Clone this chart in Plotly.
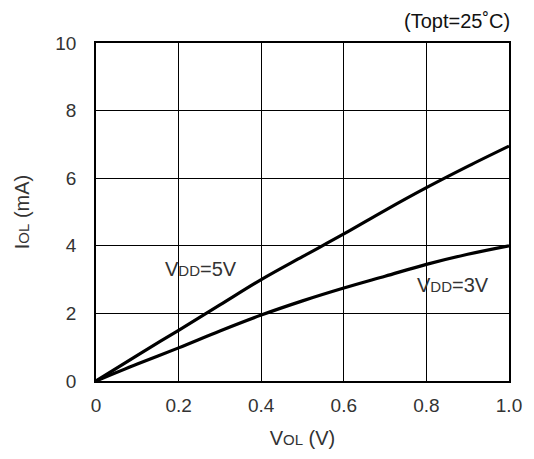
import plotly.graph_objects as go

# V_OL (V) sample points
vol = [0.0, 0.1, 0.2, 0.3, 0.4, 0.5, 0.6, 0.7, 0.8, 0.9, 1.0]
iol_5v = [0.0, 0.76, 1.5, 2.25, 3.0, 3.68, 4.35, 5.05, 5.72, 6.35, 6.95]
iol_3v = [0.0, 0.5, 0.98, 1.48, 1.95, 2.37, 2.75, 3.1, 3.45, 3.75, 4.0]

x_ticks = [0, 0.2, 0.4, 0.6, 0.8, 1.0]
x_tick_text = ["0", "0.2", "0.4", "0.6", "0.8", "1.0"]
y_ticks = [0, 2, 4, 6, 8, 10]

FONT = "Liberation Sans, Arial, sans-serif"
INK = "#333"
SUB = "<span style='font-size:15px'>{}</span>"

fig = go.Figure()
for ys in (iol_5v, iol_3v):
    fig.add_trace(go.Scatter(x=vol, y=ys, mode="lines", line_shape="spline",
                             line=dict(color="black", width=3.2), showlegend=False))

fig.add_annotation(x=0.2, y=3.3, text="V" + SUB.format("DD") + "=5V",
                   showarrow=False, xanchor="left", yanchor="middle",
                   xshift=-16, font=dict(size=20, color=INK))
fig.add_annotation(x=0.8, y=2.85, text="V" + SUB.format("DD") + "=3V",
                   showarrow=False, xanchor="left", yanchor="middle",
                   xshift=-11, font=dict(size=20, color=INK))
fig.add_annotation(x=1, y=1.0, xref="paper", yref="paper", yshift=22,
                   text="(Topt=25˚C)", showarrow=False,
                   xanchor="right", yanchor="middle", xshift=3,
                   font=dict(size=20, color="#111"))

axis_common = dict(showgrid=True, gridcolor="black", gridwidth=1.2,
                   zeroline=False, showline=True, linecolor="black",
                   linewidth=1.6, mirror=True, ticks="",
                   tickfont=dict(size=19, color=INK))

# page body adds an 8px margin, so the figure is shrunk by that amount
fig.update_layout(
    width=526, height=451,
    paper_bgcolor="white", plot_bgcolor="white",
    font=dict(family=FONT, color=INK),
    margin=dict(l=88, r=22, t=35, b=78),
    xaxis=dict(range=[0, 1.0], tickvals=x_ticks, ticktext=x_tick_text,
               title=dict(text="V" + SUB.format("OL") + " (V)",
                          font=dict(size=20), standoff=16),
               ticklabelstandoff=6,
               **axis_common),
    yaxis=dict(range=[0, 10], tickvals=y_ticks,
               title=dict(text="I" + SUB.format("OL") + " (mA)",
                          font=dict(size=20), standoff=20),
               ticklabelstandoff=14,
               **axis_common),
)

fig.write_html("out.html")
